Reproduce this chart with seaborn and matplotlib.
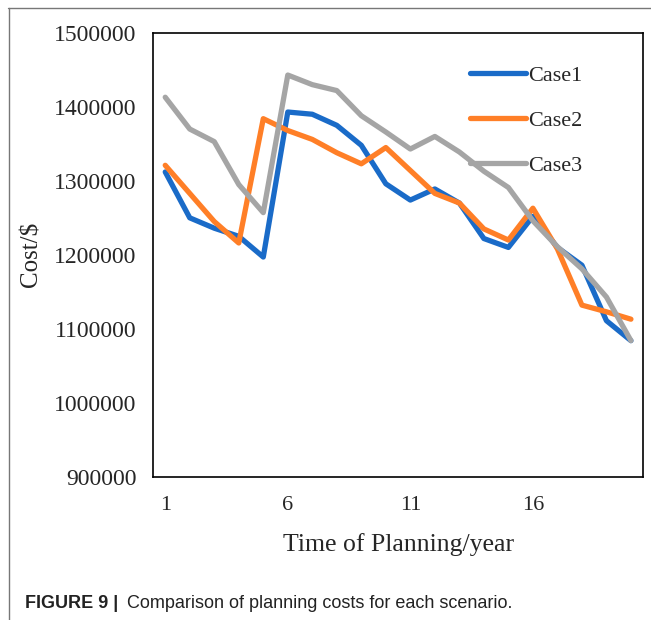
import matplotlib
matplotlib.use("Agg")
import matplotlib.pyplot as plt
from matplotlib.lines import Line2D
import seaborn as sns
import pandas as pd

# planning years and cost per scenario
years = list(range(1, 21))
case1 = [1312000, 1250000, 1236000, 1225000, 1197000, 1393000, 1390000, 1375000, 1348000, 1296000,
         1274000, 1289000, 1270000, 1222000, 1210000, 1252000, 1210000, 1186000, 1111000, 1084000]
case2 = [1321000, 1283000, 1245000, 1216000, 1384000, 1368000, 1356000, 1338000, 1323000, 1345000,
         1314000, 1283000, 1270000, 1235000, 1220000, 1263000, 1208000, 1132000, 1123000, 1113000]
case3 = [1413000, 1370000, 1353000, 1295000, 1257000, 1443000, 1430000, 1422000, 1388000, 1366000,
         1343000, 1360000, 1339000, 1313000, 1291000, 1246000, 1211000, 1181000, 1143000, 1084000]
case_names = ["Case1", "Case2", "Case3"]
colors = ["#1A6BC8", "#FF7F27", "#A5A5A5"]

df = pd.DataFrame({
    "year": years * 3,
    "cost": case1 + case2 + case3,
    "case": [n for n in case_names for _ in years],
})

sns.set_style("white")
plt.rcParams["font.family"] = ["Liberation Serif", "DejaVu Serif"]

fig = plt.figure(figsize=(6.51, 6.2), dpi=100)
ax = fig.add_axes([0.235, 0.231, 0.753, 0.716])

sns.lineplot(data=df, x="year", y="cost", hue="case", palette=colors,
             linewidth=3.8, ax=ax, legend=True)

ax.set_xlim(0.5, 20.5)
ax.set_ylim(900000, 1500000)
ax.set_xticks([1, 6, 11, 16])
ax.set_yticks(range(900000, 1500001, 100000))
ax.yaxis.set_major_formatter(matplotlib.ticker.FuncFormatter(lambda v, p: f"{int(v)}"))
ax.tick_params(axis="both", length=0, labelsize=16)
ax.tick_params(axis="y", labelsize=17, pad=12)
ax.tick_params(axis="x", pad=14)
for s in ax.spines.values():
    s.set_color("black")
    s.set_linewidth(1.2)

ax.set_xlabel("Time of Planning/year", fontsize=18.5, labelpad=13)
ax.set_ylabel("Cost/$", fontsize=18, labelpad=8)

ax.legend(loc="upper left", bbox_to_anchor=(0.606, 0.972), frameon=False,
          fontsize=16, handlelength=2.5, handletextpad=0.1, labelspacing=1.1)

# outer frame lines of the figure panel
fig.add_artist(Line2D([8 / 651, 1], [1 - 8 / 620, 1 - 8 / 620], color="#777777", lw=1))
fig.add_artist(Line2D([9 / 651, 9 / 651], [0, 1 - 8 / 620], color="#777777", lw=1))

fig.text(25 / 651, 1 - 603 / 620, "FIGURE 9 |", fontsize=13, fontweight="bold",
         family="Liberation Sans", color="#222222", va="center")
fig.text(127 / 651, 1 - 603 / 620, "Comparison of planning costs for each scenario.",
         fontsize=13, family="Liberation Sans", color="#222222", va="center")

fig.savefig("out.png", dpi=100)
